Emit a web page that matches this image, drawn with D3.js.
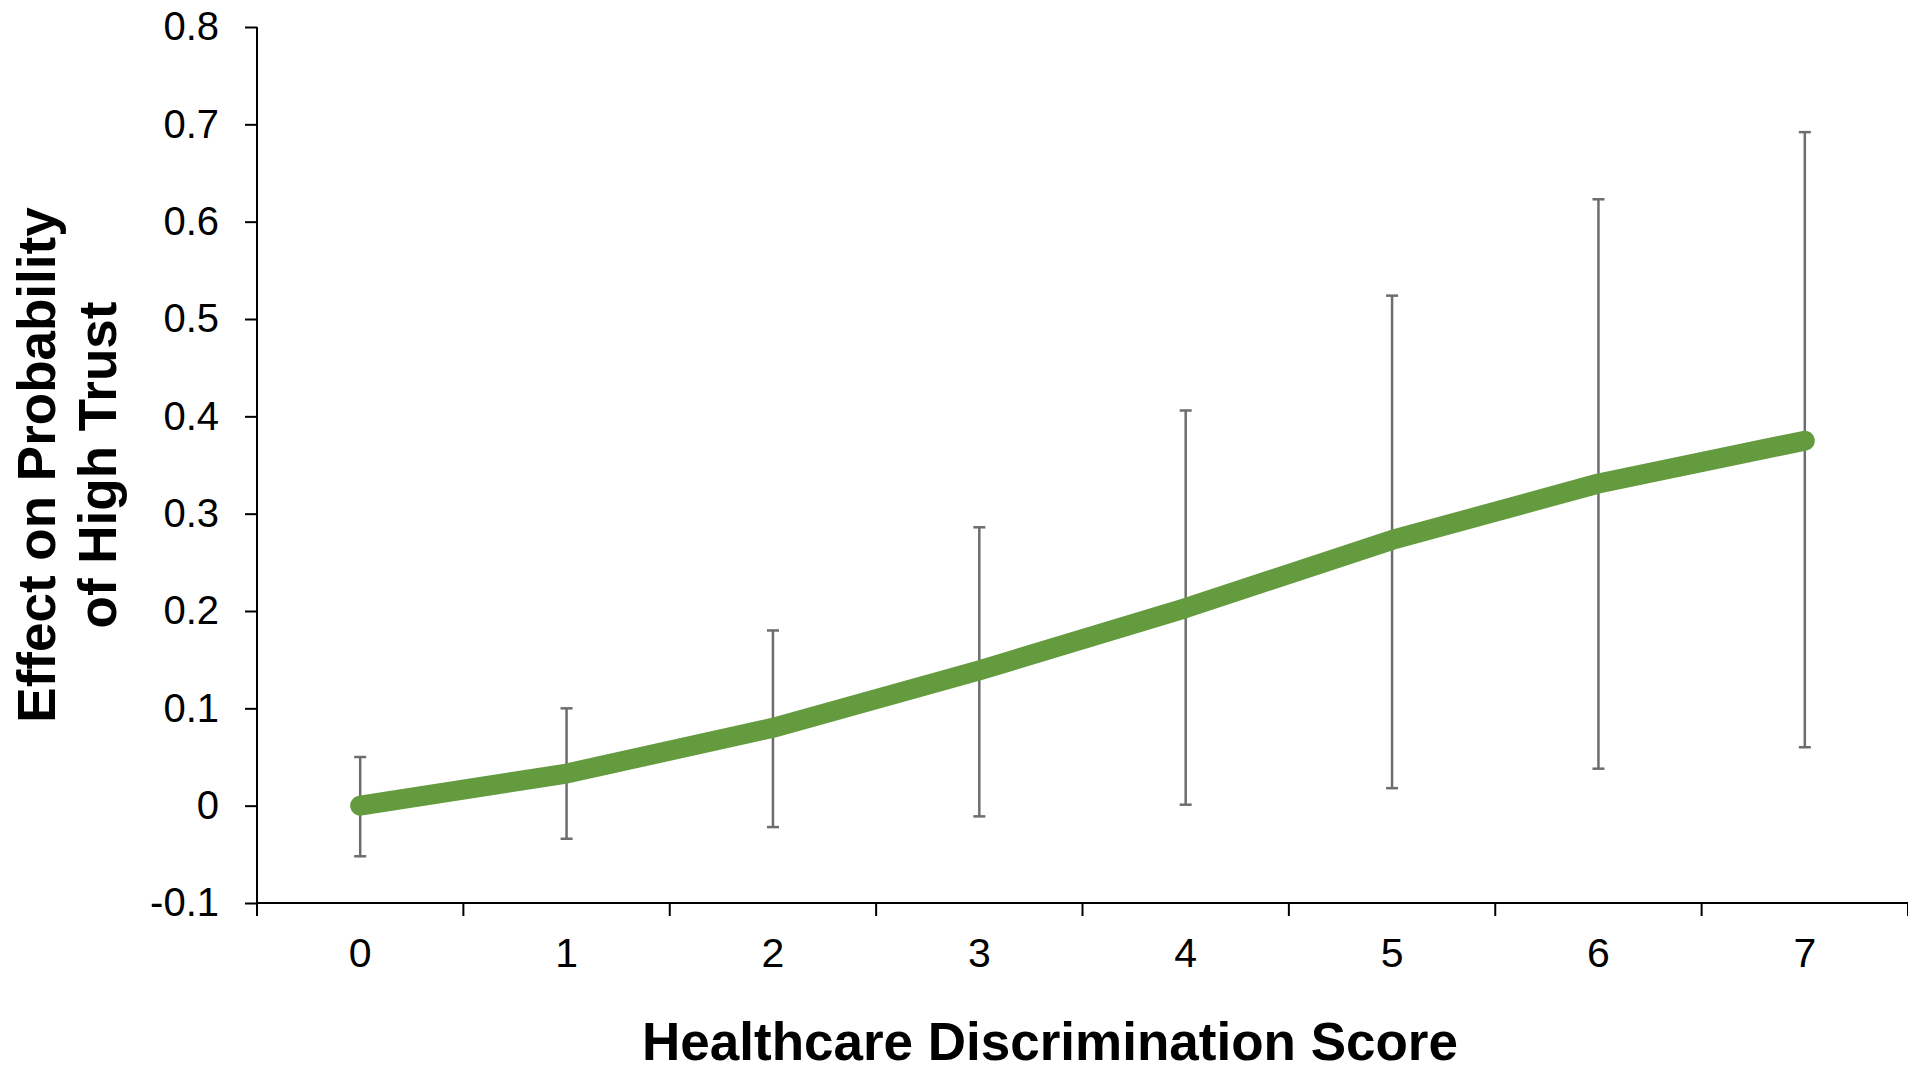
<!DOCTYPE html>
<html>
<head>
<meta charset="utf-8">
<script src="https://cdn.jsdelivr.net/npm/d3@7"></script>
<style>
  html, body { margin: 0; padding: 0; background: #fff; }
  svg { display: block; font-family: "Liberation Sans", Arial, sans-serif; }
</style>
</head>
<body>
<div id="chart"></div>
<script>
// Values
const scores = [0, 1, 2, 3, 4, 5, 6, 7]
const effect = [0, 0.033, 0.080, 0.139, 0.203, 0.273, 0.331, 0.375]
const upper  = [0.050, 0.100, 0.180, 0.286, 0.406, 0.524, 0.623, 0.692]
const lower  = [-0.052, -0.034, -0.022, -0.011, 0.001, 0.018, 0.038, 0.060]
const yTicks = [-0.1, 0, 0.1, 0.2, 0.3, 0.4, 0.5, 0.6, 0.7, 0.8]

const width = 1908
const height = 1068
const margin = { top: 27, right: 0, bottom: 165, left: 257 }

const svg = d3.select("#chart")
  .append("svg")
  .attr("width", width)
  .attr("height", height)
  .attr("viewBox", [0, 0, width, height])

const x = d3.scaleBand()
  .domain(scores)
  .range([margin.left, width - margin.right])
  .padding(0)

const y = d3.scaleLinear()
  .domain([-0.1, 0.8])
  .range([height - margin.bottom, margin.top])

const rows = scores.map((s, i) => ({ s, v: effect[i], hi: upper[i], lo: lower[i] }))
const cx = d => x(d) + x.bandwidth() / 2

// y axis
const yAxis = svg.append("g")
  .attr("transform", `translate(${margin.left},0)`)
  .call(d3.axisLeft(y)
    .tickValues(yTicks)
    .tickSize(12)
    .tickPadding(26)
    .tickFormat(d => d === 0 ? "0" : d3.format(".1f")(d).replace("−", "-")))
yAxis.select(".domain").attr("stroke", "#000").attr("stroke-width", 2)
  .attr("d", `M0,${y(0.8)}V${y(-0.1)}`)
yAxis.selectAll(".tick line").attr("stroke", "#000").attr("stroke-width", 2)
yAxis.selectAll(".tick text")
  .attr("fill", "#000")
  .style("font-size", "40px")

// x axis: ticks sit between categories
const baseY = y(-0.1)
const xg = svg.append("g")
xg.append("line")
  .attr("x1", margin.left).attr("x2", width - margin.right)
  .attr("y1", baseY).attr("y2", baseY)
  .attr("stroke", "#000").attr("stroke-width", 2)
xg.selectAll(".xt")
  .data(scores.concat([scores.length]))
  .join("line")
    .attr("x1", (d, i) => margin.left + i * x.bandwidth())
    .attr("x2", (d, i) => margin.left + i * x.bandwidth())
    .attr("y1", baseY).attr("y2", baseY + 13)
    .attr("stroke", "#000").attr("stroke-width", 2)
xg.selectAll("text")
  .data(scores)
  .join("text")
    .attr("x", cx)
    .attr("y", 967)
    .attr("text-anchor", "middle")
    .style("font-size", "41px")
    .text(d => d)

// error bars
const eb = svg.append("g").attr("stroke", "#6d6d6d").attr("stroke-width", 2.5)
eb.selectAll(".stem")
  .data(rows)
  .join("line")
    .attr("x1", d => cx(d.s)).attr("x2", d => cx(d.s))
    .attr("y1", d => y(d.hi)).attr("y2", d => y(d.lo))
eb.selectAll(".capHi")
  .data(rows)
  .join("line")
    .attr("x1", d => cx(d.s) - 6).attr("x2", d => cx(d.s) + 6)
    .attr("y1", d => y(d.hi)).attr("y2", d => y(d.hi))
eb.selectAll(".capLo")
  .data(rows)
  .join("line")
    .attr("x1", d => cx(d.s) - 6).attr("x2", d => cx(d.s) + 6)
    .attr("y1", d => y(d.lo)).attr("y2", d => y(d.lo))

// effect line
svg.append("path")
  .datum(rows)
  .attr("fill", "none")
  .attr("stroke", "#639b3e")
  .attr("stroke-width", 20)
  .attr("stroke-linecap", "round")
  .attr("stroke-linejoin", "round")
  .attr("d", d3.line().x(d => cx(d.s)).y(d => y(d.v)))

// axis titles
svg.append("text")
  .attr("x", 1050)
  .attr("y", 1060)
  .attr("text-anchor", "middle")
  .style("font-size", "53px")
  .style("font-weight", "bold")
  .text("Healthcare Discrimination Score")

const yt = svg.append("text")
  .attr("transform", `translate(0,${(y(0.8) + y(-0.1)) / 2}) rotate(-90)`)
  .attr("text-anchor", "middle")
  .style("font-size", "53px")
  .style("font-weight", "bold")
yt.append("tspan").attr("x", 0).attr("y", 55).text("Effect on Probability")
yt.append("tspan").attr("x", 0).attr("y", 116).text("of High Trust")
</script>
</body>
</html>
